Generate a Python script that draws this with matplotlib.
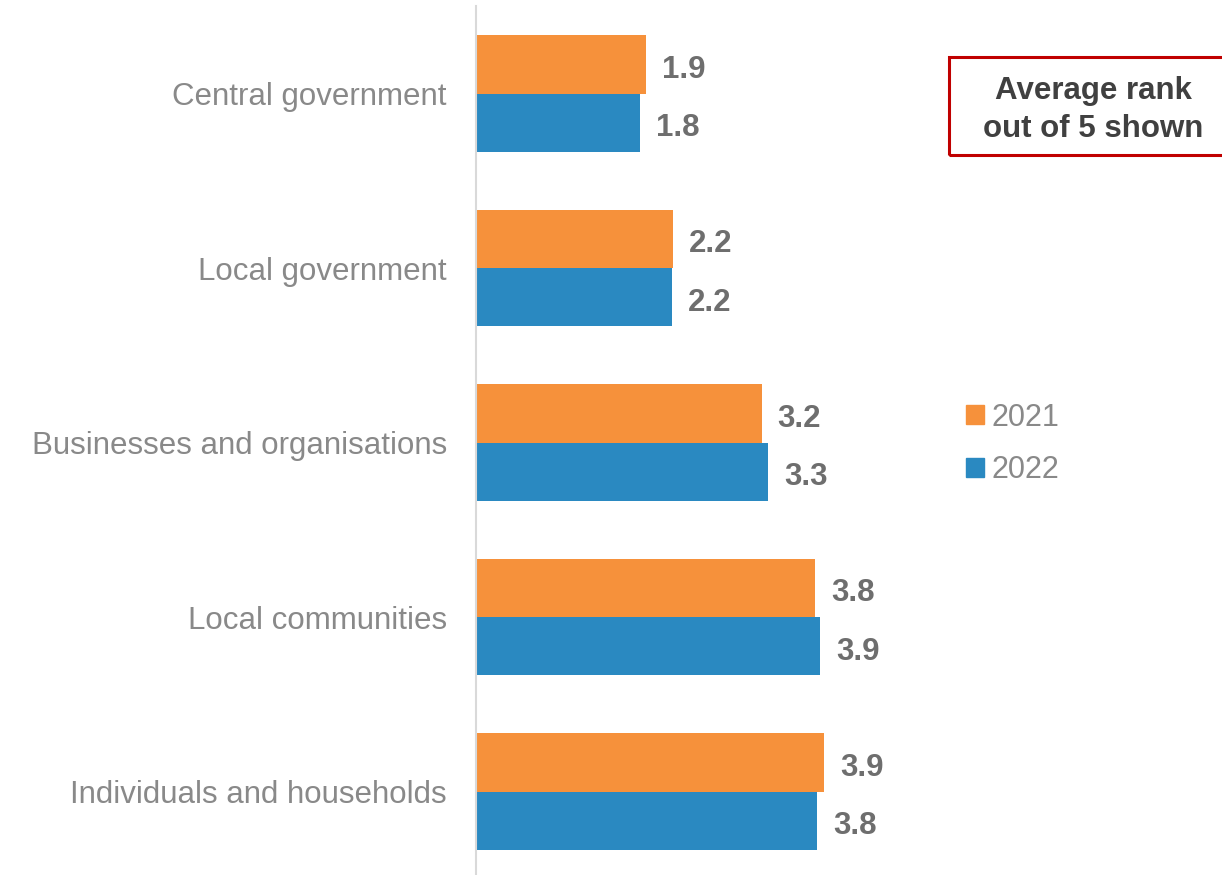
import matplotlib
matplotlib.use("Agg")
import matplotlib.pyplot as plt
from matplotlib.patches import Rectangle, Patch

plt.rcParams['font.family'] = ['Liberation Sans', 'DejaVu Sans']

categories = ["Central government", "Local government", "Businesses and organisations",
              "Local communities", "Individuals and households"]
series_names = ["2021", "2022"]
values_2021 = [1.91, 2.21, 3.21, 3.81, 3.91]
values_2022 = [1.84, 2.20, 3.28, 3.87, 3.83]
labels_2021 = ["1.9", "2.2", "3.2", "3.8", "3.9"]
labels_2022 = ["1.8", "2.2", "3.3", "3.9", "3.8"]

orange = '#F6913B'
blue = '#2A89C1'
cat_gray = '#898989'
val_gray = '#6E6E6E'

W, H = 1222, 875
fig = plt.figure(figsize=(W/100, H/100), dpi=100)
ax = fig.add_axes([476/W, -3.75/H, 746/W, 872.5/H])

bh = 0.335
ypos = list(range(len(categories)))
y21 = [y - bh/2 for y in ypos]
y22 = [y + bh/2 for y in ypos]
b1 = ax.barh(y21, values_2021, height=bh, color=orange, label=series_names[0])
b2 = ax.barh(y22, values_2022, height=bh, color=blue, label=series_names[1])

for bars, labs in ((b1, labels_2021), (b2, labels_2022)):
    for rect, lab in zip(bars, labs):
        ax.annotate(lab, (rect.get_width(), rect.get_y() + rect.get_height()/2),
                    xytext=(11.5, -4), textcoords='offset points', ha='left', va='center',
                    fontsize=22.5, fontweight='bold', color=val_gray)

ax.set_xlim(0, 746/89.0)
ax.set_ylim(4.5, -0.5)
ax.set_yticks(ypos)
ax.set_yticklabels(categories, fontsize=22.5, color=cat_gray)
ax.tick_params(axis='y', length=0, pad=21)
ax.set_xticks([])
for s in ('top', 'right', 'bottom'):
    ax.spines[s].set_visible(False)
ax.spines['left'].set_color('#D9D9D9')
ax.spines['left'].set_linewidth(1.5)

handles = [Patch(color=orange), Patch(color=blue)]
leg = fig.legend(handles, series_names, loc='center left',
                 bbox_to_anchor=(966/W, 1 - 444/H), frameon=False,
                 fontsize=22, labelcolor=cat_gray, handlelength=0.6, handleheight=0.6,
                 handletextpad=0.25, labelspacing=0.75, borderaxespad=0, borderpad=0)

fig.patches.append(Rectangle((949/W, 1 - 155/H), 290/W, 98/H, transform=fig.transFigure,
                             fill=False, edgecolor='#C00000', linewidth=2.2))
fig.text(1093/W, 1 - 110/H, "Average rank\nout of 5 shown", ha='center', va='center',
         fontsize=22.5, fontweight='bold', color='#404040', linespacing=1.32)

fig.savefig('out.png', dpi=100)
